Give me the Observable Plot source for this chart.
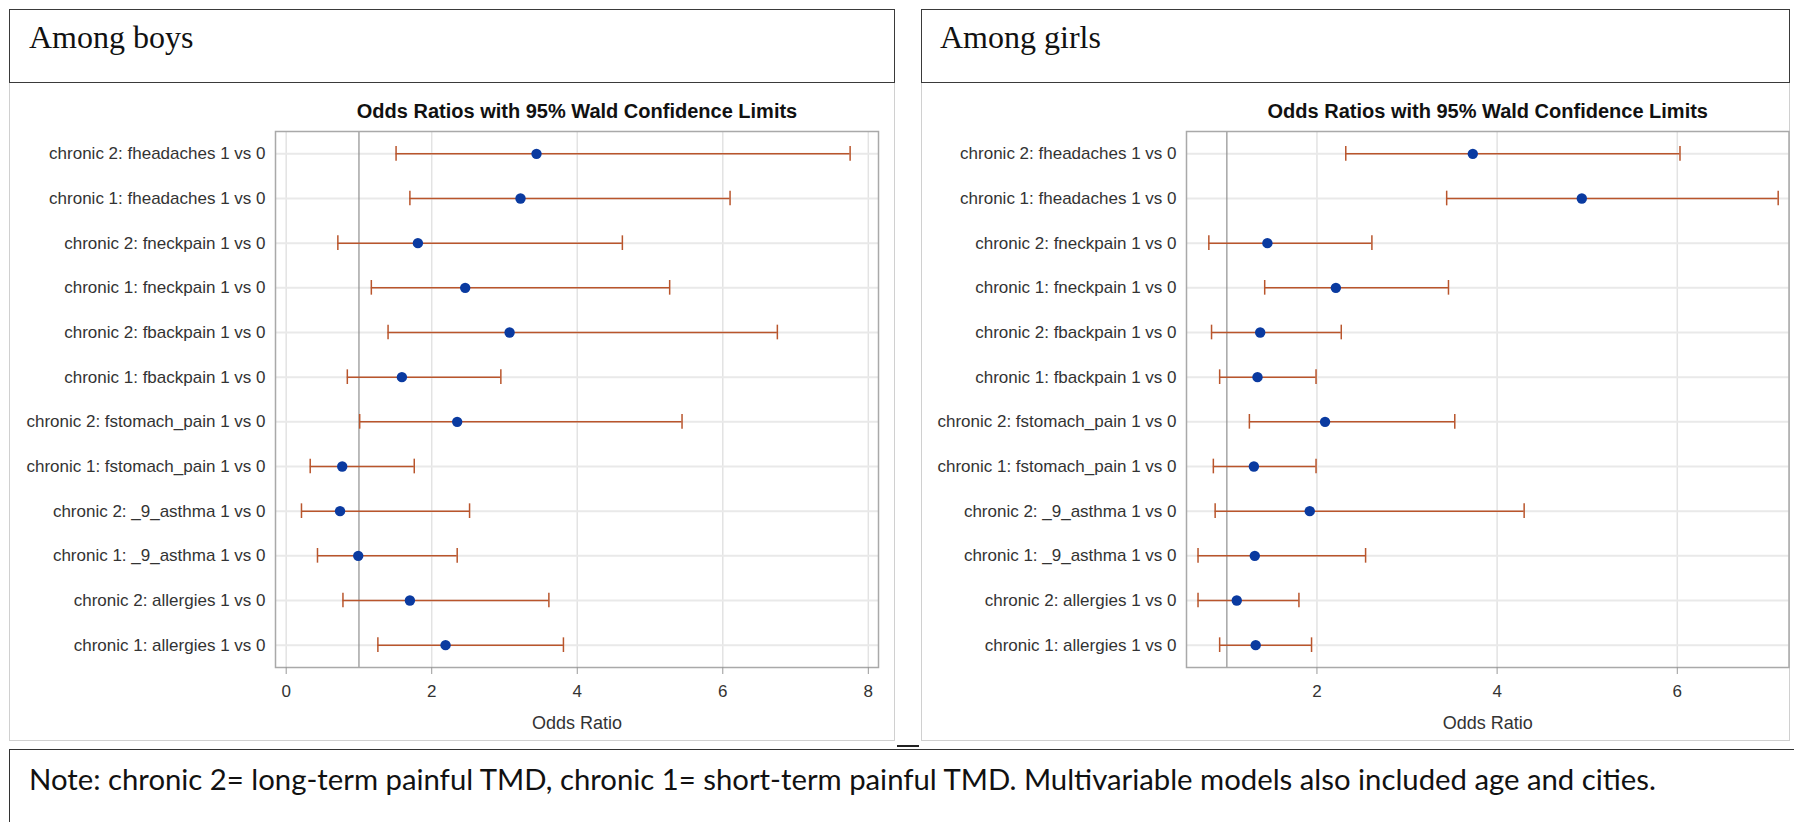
<!DOCTYPE html>
<html>
<head>
<meta charset="utf-8">
<script src="https://cdn.jsdelivr.net/npm/d3@7"></script>
<script src="https://cdn.jsdelivr.net/npm/@observablehq/plot@0.6"></script>
<style>
  body { margin: 0; background: #fff; }
  #page { position: relative; width: 1794px; height: 822px; background: #fff; overflow: hidden; }
  .abs { position: absolute; box-sizing: border-box; }
  .hdr { border: 1.5px solid #3a3a3a; }
  .hdrtxt { position: absolute; font-family: "Liberation Serif", "DejaVu Serif", serif; font-size: 32px; line-height: 32px; color: #111; white-space: nowrap; }
  .panel { border: 1px solid #d0d0d0; border-top: none; }
  .note { border-top: 1.5px solid #333; border-left: 1.5px solid #333; }
  .notetxt { position: absolute; font-family: Lato, "Open Sans", sans-serif; font-size: 29.3px; line-height: 29px; color: #111; white-space: nowrap; }
  svg { position: absolute; }
</style>
</head>
<body>
<div id="page">
  <div class="abs panel" style="left:9px;top:82px;width:886px;height:659px"></div>
  <div class="abs panel" style="left:921px;top:82px;width:869px;height:659px"></div>
  <div class="abs hdr" style="left:9px;top:9px;width:886px;height:74px"></div>
  <div class="abs hdr" style="left:921px;top:9px;width:869px;height:74px"></div>
  <div class="hdrtxt" id="t1" style="left:29px;top:21px"></div>
  <div class="hdrtxt" id="t2" style="left:940px;top:21px"></div>
  <div class="abs" style="left:897px;top:745px;width:22px;height:2px;background:#222"></div>
  <div class="abs note" style="left:9px;top:749px;width:1790px;height:80px"></div>
  <div class="notetxt" id="note" style="left:29px;top:764px"></div>
  <div id="c1"></div>
  <div id="c2"></div>
</div>
<script>
// ---- data ----
const headers = ["Among boys", "Among girls"];
const chartTitle = "Odds Ratios with 95% Wald Confidence Limits";
const axisLabel = "Odds Ratio";
const noteText = "Note: chronic 2= long-term painful TMD, chronic 1= short-term painful TMD. Multivariable models also included age and cities.";

const labels = [
  "chronic 2: fheadaches 1 vs 0",
  "chronic 1: fheadaches 1 vs 0",
  "chronic 2: fneckpain 1 vs 0",
  "chronic 1: fneckpain 1 vs 0",
  "chronic 2: fbackpain 1 vs 0",
  "chronic 1: fbackpain 1 vs 0",
  "chronic 2: fstomach_pain 1 vs 0",
  "chronic 1: fstomach_pain 1 vs 0",
  "chronic 2: _9_asthma 1 vs 0",
  "chronic 1: _9_asthma 1 vs 0",
  "chronic 2: allergies 1 vs 0",
  "chronic 1: allergies 1 vs 0"
];

const boysOR   = [3.44, 3.22, 1.81, 2.46, 3.07, 1.59, 2.35, 0.77, 0.74, 0.99, 1.70, 2.19];
const boysLow  = [1.51, 1.70, 0.71, 1.17, 1.40, 0.84, 1.01, 0.33, 0.21, 0.43, 0.78, 1.26];
const boysHigh = [7.75, 6.10, 4.62, 5.27, 6.75, 2.95, 5.44, 1.76, 2.52, 2.35, 3.61, 3.81];

const girlsOR   = [3.73, 4.94, 1.45, 2.21, 1.37, 1.34, 2.09, 1.30, 1.92, 1.31, 1.11, 1.32];
const girlsLow  = [2.32, 3.44, 0.80, 1.42, 0.83, 0.92, 1.25, 0.85, 0.87, 0.68, 0.68, 0.92];
const girlsHigh = [6.03, 7.12, 2.61, 3.46, 2.27, 1.99, 3.53, 1.99, 4.30, 2.54, 1.80, 1.94];

const boysTicks  = [0, 2, 4, 6, 8];
const girlsTicks = [2, 4, 6];
const boysDomain  = [-0.147, 8.14];
const girlsDomain = [0.552, 7.24];
const refValue = 1;

// ---- styles ----
const BAR = "#b9552c";
const DOT = "#0a3aa0";

document.getElementById("t1").textContent = headers[0];
document.getElementById("t2").textContent = headers[1];
document.getElementById("note").textContent = noteText;

function chart(or, low, high, domain, ticks, width, marginLeft, marginRight) {
  const rows = labels.map((l, i) => ({label: l, or: or[i], low: low[i], high: high[i]}));
  return Plot.plot({
    width, height: 659,
    marginLeft, marginRight, marginTop: 49, marginBottom: 74,
    style: {fontFamily: "'Liberation Sans', Arial, sans-serif", fontSize: "17px", color: "#333", background: "transparent", overflow: "visible"},
    x: {domain, ticks, label: null},
    y: {domain: labels, type: "band", padding: 0, round: false, label: null},
    marks: [
      Plot.gridX(ticks, {stroke: "#e3e3e3", strokeOpacity: 1, strokeWidth: 1.5}),
      Plot.gridY(labels, {stroke: "#e9e9e9", strokeOpacity: 1, strokeWidth: 2}),
      Plot.ruleX([refValue], {stroke: "#8f8f8f", strokeWidth: 1.2}),
      Plot.frame({stroke: "#a9a9a9", strokeWidth: 1.5}),
      Plot.ruleY(rows, {y: "label", x1: "low", x2: "high", stroke: BAR, strokeWidth: 1.5}),
      Plot.tickX(rows, {x: "low", y: "label", stroke: BAR, strokeWidth: 1.5, insetTop: 15, insetBottom: 15}),
      Plot.tickX(rows, {x: "high", y: "label", stroke: BAR, strokeWidth: 1.5, insetTop: 15, insetBottom: 15}),
      Plot.dot(rows, {x: "or", y: "label", r: 5.2, fill: DOT, stroke: "none"}),
      Plot.axisY({tickSize: 0, tickPadding: 10, label: null, fill: "#333"}),
      Plot.axisX({ticks, tickFormat: d3.format("d"), tickSize: 7, tickPadding: 10, stroke: "#999", fill: "#333", label: null}),
      Plot.text([axisLabel], {frameAnchor: "bottom", lineAnchor: "middle", dy: 56, fontSize: 18, fill: "#333"}),
      Plot.text([chartTitle], {frameAnchor: "top", lineAnchor: "middle", dy: -20, fontWeight: "bold", fontSize: 20, fill: "#111"})
    ]
  });
}

const s1 = chart(boysOR, boysLow, boysHigh, boysDomain, boysTicks, 886, 266, 17);
s1.style.left = "9px"; s1.style.top = "82px";
document.getElementById("c1").appendChild(s1);

const s2 = chart(girlsOR, girlsLow, girlsHigh, girlsDomain, girlsTicks, 869, 265, 1.5);
s2.style.left = "921px"; s2.style.top = "82px";
document.getElementById("c2").appendChild(s2);
</script>
</body>
</html>
